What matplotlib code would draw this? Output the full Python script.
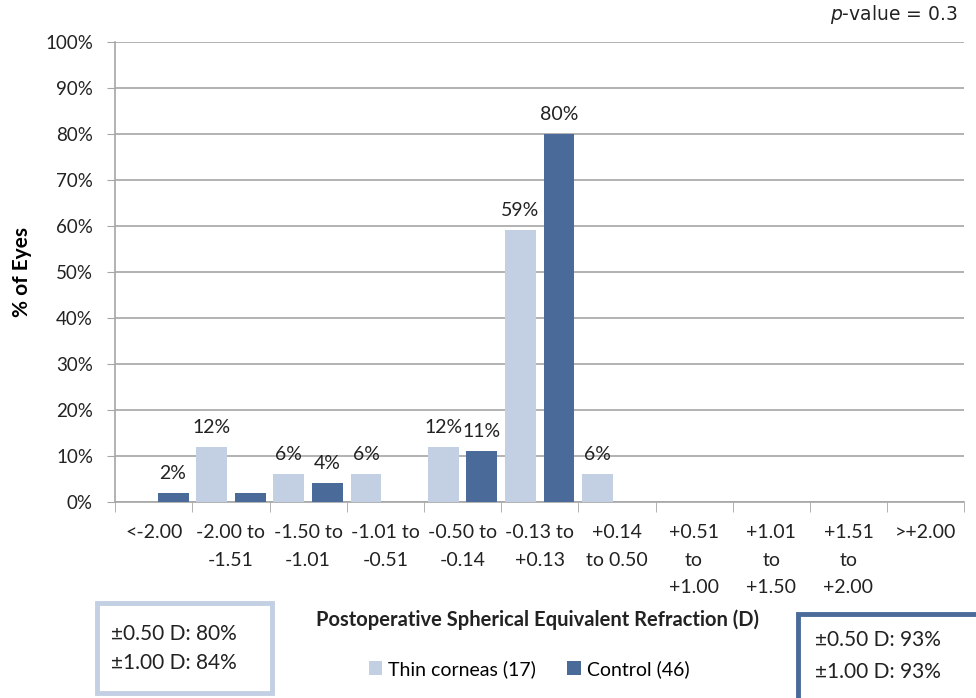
import numpy as np
import matplotlib
matplotlib.use("Agg")
import matplotlib.pyplot as plt
from matplotlib.patches import Rectangle
from matplotlib.ticker import FuncFormatter

plt.rcParams['font.family'] = ['Lato', 'DejaVu Sans']

categories = ["<-2.00", "-2.00 to\n-1.51", "-1.50 to\n-1.01", "-1.01 to\n-0.51",
              "-0.50 to\n-0.14", "-0.13 to\n+0.13", "+0.14\nto 0.50", "+0.51\nto\n+1.00",
              "+1.01\nto\n+1.50", "+1.51\nto\n+2.00", ">+2.00"]
thin = [0, 12, 6, 6, 12, 59, 6, 0, 0, 0, 0]
control = [2, 2, 4, 0, 11, 80, 0, 0, 0, 0, 0]
# which bars carry a value label
thin_shown = [False, True, True, True, True, True, True, False, False, False, False]
control_shown = [True, False, True, False, True, True, False, False, False, False, False]

thin_name = "Thin corneas (17)"
control_name = "Control (46)"
thresholds = ["±0.50 D", "±1.00 D"]
thin_within = [80, 84]
control_within = [93, 93]
p_value = 0.3

light = "#c3cfe2"
dark = "#4a6a99"
grey = "#a6a6a6"
ink = "#222222"
fs = 14

fig = plt.figure(figsize=(9.76, 6.98), dpi=100)
ax = fig.add_axes([0.118, 0.281, 0.870, 0.659])

x = np.arange(len(categories))
w = 0.4
b1 = ax.bar(x - 0.25, thin, w, color=light, label=thin_name, zorder=3)
b2 = ax.bar(x + 0.25, control, w, color=dark, label=control_name, zorder=3)

for bars, vals, shown in ((b1, thin, thin_shown), (b2, control, control_shown)):
    for rect, v, s in zip(bars, vals, shown):
        if s:
            ax.annotate(f"{v}%", (rect.get_x() + rect.get_width() / 2, v),
                        xytext=(0, 8), textcoords="offset points",
                        ha="center", va="bottom", fontsize=fs, color=ink)

ax.set_xlim(-0.5, len(categories) - 0.5)
ax.set_ylim(0, 100)
ax.set_yticks(np.arange(0, 101, 10))
ax.yaxis.set_major_formatter(FuncFormatter(lambda v, _: f"{int(v)}%"))
ax.tick_params(axis="y", length=6, color=grey, labelsize=13.5, pad=10, labelcolor=ink)
ax.set_xticks(x)
ax.set_xticklabels(categories, linespacing=1.75)
ax.tick_params(axis="x", length=0, labelsize=fs, pad=16, labelcolor=ink)
ax.set_xticks(np.arange(-0.5, len(categories), 1), minor=True)
ax.tick_params(axis="x", which="minor", length=7, color=grey)

ax.yaxis.grid(True, color=grey, linewidth=1.2, zorder=0)
for side in ("top", "right"):
    ax.spines[side].set_visible(False)
for side in ("left", "bottom"):
    ax.spines[side].set_color(grey)
    ax.spines[side].set_linewidth(1.2)

ax.set_ylabel("% of Eyes", fontsize=15, fontweight="bold")
ax.yaxis.set_label_coords(-0.098, 0.5)

fig.text(538 / 976, 1 - 620 / 698, "Postoperative Spherical Equivalent Refraction (D)",
         ha="center", va="center", fontsize=14.5, fontweight="bold", color=ink)

fig.legend(handles=[b1, b2], loc="center", bbox_to_anchor=(529 / 976, 1 - 669 / 698),
           ncol=2, frameon=False, fontsize=fs, handlelength=0.7, handleheight=0.7,
           handletextpad=0.3, columnspacing=1.6)

fig.text(958 / 976, 1 - 14 / 698, f"$\\it{{p}}$-value = {p_value}", ha="right", va="center",
         fontsize=13.5, family="DejaVu Sans", color=ink)

# summary boxes for each group
fig.add_artist(Rectangle((97 / 976, 1 - 693 / 698), 175 / 976, 90 / 698,
                         transform=fig.transFigure, fill=False, edgecolor=light, linewidth=3.5))
for i, (t, v) in enumerate(zip(thresholds, thin_within)):
    fig.text(111 / 976, 1 - (634 + 29 * i) / 698, f"{t}: {v}%", ha="left", va="center",
             fontsize=15, color=ink)

fig.add_artist(Rectangle((798 / 976, 1 - 712 / 698), 200 / 976, 98 / 698,
                         transform=fig.transFigure, fill=False, edgecolor=dark, linewidth=3.5,
                         clip_on=False))
for i, (t, v) in enumerate(zip(thresholds, control_within)):
    fig.text(815 / 976, 1 - (640 + 32 * i) / 698, f"{t}: {v}%", ha="left", va="center",
             fontsize=15, color=ink)

fig.savefig("out.png", dpi=100)
